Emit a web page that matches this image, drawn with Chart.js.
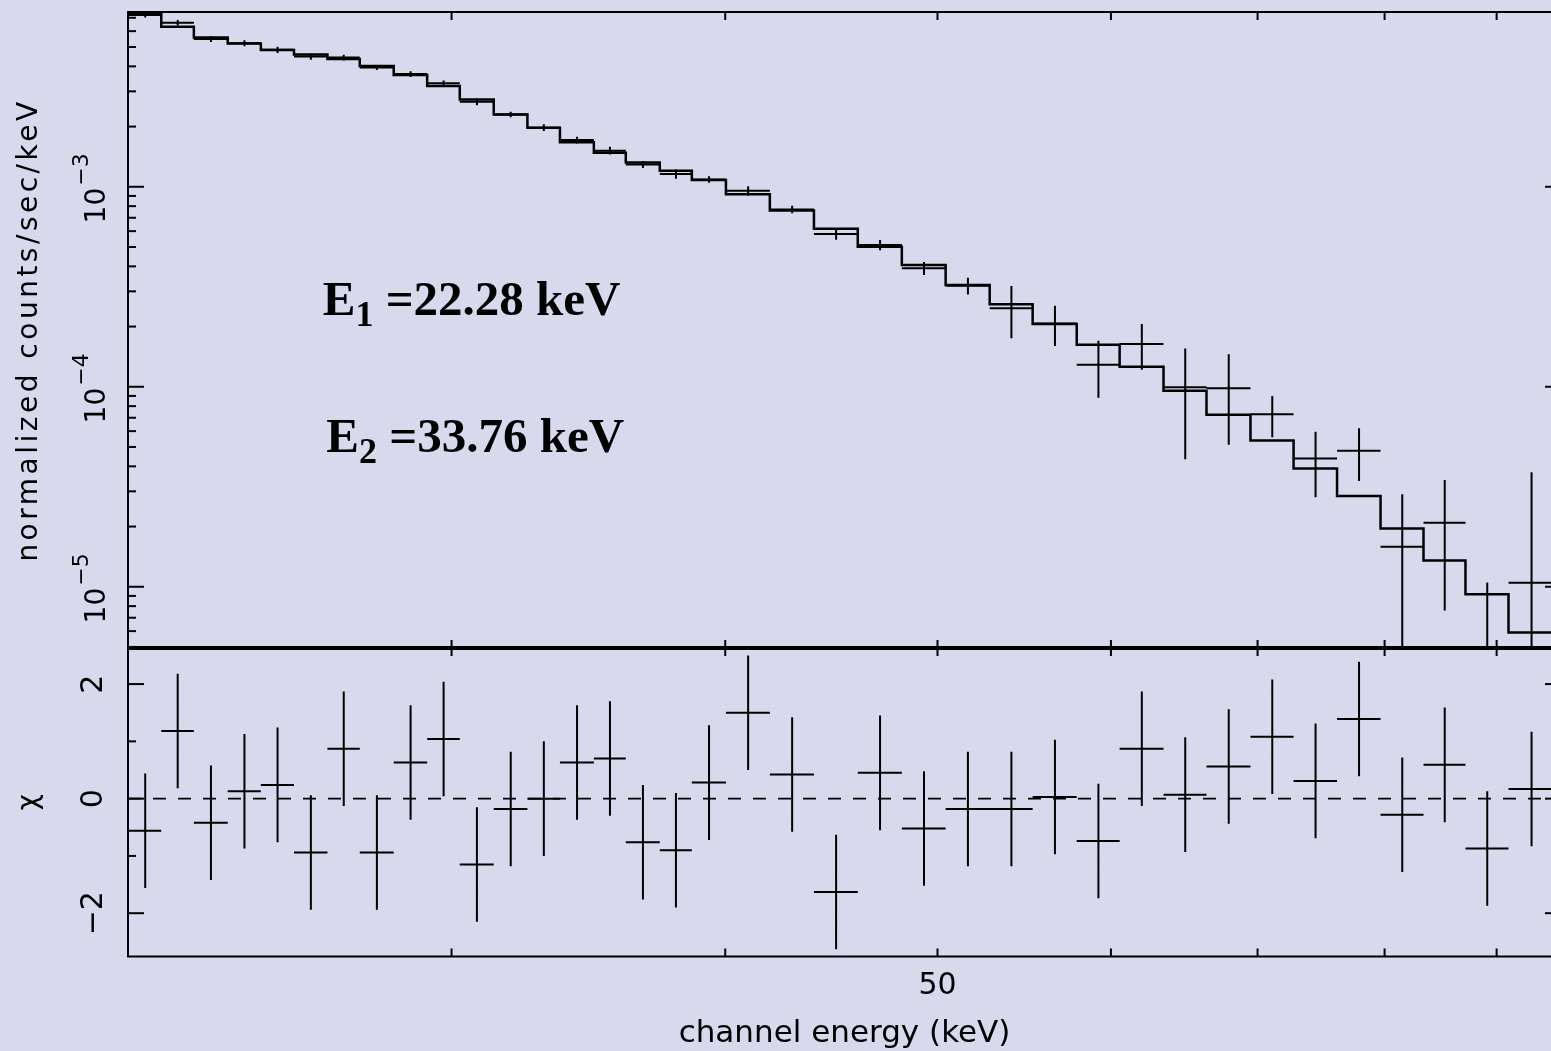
<!DOCTYPE html>
<html>
<head>
<meta charset="utf-8">
<script src="https://cdn.jsdelivr.net/npm/chart.js@4.4.1/dist/chart.umd.min.js"></script>
<style>
  html, body { margin: 0; padding: 0; overflow: hidden; }
  body { width: 1551px; height: 1051px; background: #d9d9ed; position: relative; }
  canvas { position: absolute; left: 0; }
  #spec { top: 0; }
  #resid { top: 640px; }
</style>
</head>
<body>
<canvas id="spec" width="1565" height="660"></canvas>
<canvas id="resid" width="1565" height="411"></canvas>
<script>
// channel bins (keV), one more edge than bins
const binEdges = [21.37, 22.11, 22.88, 23.71, 24.55, 25.42, 26.33, 27.24, 28.23, 29.24,
  30.26, 31.36, 32.49, 33.62, 34.84, 36.03, 37.34, 38.62, 40.03, 41.92,
  43.91, 45.98, 48.16, 50.43, 52.82, 55.26, 57.88, 60.55, 63.41, 66.34,
  69.48, 72.70, 76.10, 79.66, 83.34, 87.10, 91.13, 95.6];

// folded model (normalized counts/sec/keV)
const modelFlux = [7.31e-3, 6.32e-3, 5.57e-3, 5.21e-3, 4.83e-3, 4.59e-3, 4.36e-3, 4.02e-3, 3.62e-3, 3.19e-3,
  2.73e-3, 2.30e-3, 1.975e-3, 1.67e-3, 1.48e-3, 1.323e-3, 1.203e-3, 1.081e-3, 9.17e-4, 7.61e-4,
  6.17e-4, 5.02e-4, 4.06e-4, 3.23e-4, 2.585e-4, 2.06e-4, 1.624e-4, 1.26e-4, 9.56e-5, 7.25e-5,
  5.38e-5, 3.90e-5, 2.84e-5, 1.957e-5, 1.353e-5, 9.17e-6, 5.90e-6];

// data points and 1 sigma errors
const dataFlux = [7.23e-3, 6.61e-3, 5.48e-3, 5.22e-3, 4.84e-3, 4.48e-3, 4.43e-3, 3.95e-3, 3.66e-3, 3.29e-3,
  2.66e-3, 2.30e-3, 1.975e-3, 1.714e-3, 1.516e-3, 1.293e-3, 1.159e-3, 1.088e-3, 9.56e-4, 7.70e-4,
  5.81e-4, 5.12e-4, 3.91e-4, 3.20e-4, 2.47e-4, 2.07e-4, 1.29e-4, 1.637e-4, 9.94e-5, 9.83e-5,
  7.29e-5, 4.38e-5, 4.79e-5, 1.587e-5, 2.09e-5, 3.0e-7, 1.048e-5];
const fluxErr = [2.1e-4, 2.1e-4, 1.9e-4, 1.8e-4, 1.7e-4, 1.6e-4, 1.45e-4, 1.15e-4, 1.2e-4, 1.07e-4,
  1.0e-4, 7.2e-5, 7.7e-5, 6.6e-5, 6.8e-5, 5.1e-5, 6.1e-5, 4.2e-5, 5.1e-5, 3.3e-5,
  3.8e-5, 3.0e-5, 2.9e-5, 3.1e-5, 7.2e-5, 4.7e-5, 4.1e-5, 4.2e-5, 5.6e-5, 4.7e-5,
  1.70e-5, 1.58e-5, 1.41e-5, 1.31e-5, 1.33e-5, 1.02e-5, 2.69e-5];

// residuals (chi)
const chiVals = [-0.56, 1.18, -0.42, 0.13, 0.24, -0.94, 0.87, -0.94, 0.63, 1.04,
  -1.15, -0.18, 0.00, 0.63, 0.70, -0.76, -0.90, 0.28, 1.50, 0.42,
  -1.63, 0.45, -0.52, -0.18, -0.18, 0.03, -0.74, 0.87, 0.07, 0.56,
  1.08, 0.31, 1.39, -0.28, 0.59, -0.87, 0.17];
const chiErr = [1, 1, 1, 1, 1, 1, 1, 1, 1, 1, 1, 1, 1, 1, 1, 1, 1, 1, 1, 1,
  1, 1, 1, 1, 1, 1, 1, 1, 1, 1, 1, 1, 1, 1, 1, 1, 1];

// axes
const xMin = 21.35, xMax = 96.3;
const fluxMin = 4.94e-6, fluxMax = 7.48e-3;
const chiMin = -2.756, chiMax = 2.63;
const xTickValues = [30, 40, 50, 60, 70, 80, 90];
const xTickLabels = ['', '', '50', '', '', '', ''];
const fluxTickValues = [1e-5, 1e-4, 1e-3];
const fluxTickBase = ['10', '10', '10'];
const fluxTickExp = ['−5', '−4', '−3'];
const chiTickValues = [-2, 0, 2];
const chiTickLabels = ['−2', '0', '2'];
const chiMinorTicks = [-1, 1];

// line energies written on the plot
const lineSubs = ['1', '2'];
const lineEnergies = ['22.28', '33.76'];
const lineLabelX = [26.2, 26.3];
const lineLabelY = [2.29e-4, 4.74e-5];

const fluxMinorTicks = [];
for (let e = -6; e <= -3; e++) {
  for (let k = 2; k <= 9; k++) {
    const v = k * Math.pow(10, e);
    if (v > fluxMin && v < fluxMax) fluxMinorTicks.push(v);
  }
}

Chart.defaults.font.family = 'DejaVu Sans';
Chart.defaults.color = '#000';

function stepPoints(vals) {
  const pts = [];
  vals.forEach((v, i) => {
    pts.push({ x: binEdges[i], y: v }, { x: binEdges[i + 1], y: v });
  });
  return pts;
}

function crossPoints(vals, errs, floor) {
  const pts = [];
  vals.forEach((v, i) => {
    const lo = binEdges[i], hi = binEdges[i + 1], mid = (lo + hi) / 2;
    pts.push({ x: lo, y: v }, { x: hi, y: v }, { x: mid, y: null });
    pts.push({ x: mid, y: Math.max(v - errs[i], floor) }, { x: mid, y: v + errs[i] }, { x: mid, y: null });
  });
  return pts;
}

// box with inward ticks, pgplot style
function makeFrame(major, minor, bottomWidth) {
  return {
    id: 'frame',
    afterDatasetsDraw(chart) {
      const { ctx, chartArea: a } = chart;
      const xs = chart.scales.x, ys = chart.scales.y;
      const seg = (x1, y1, x2, y2) => { ctx.beginPath(); ctx.moveTo(x1, y1); ctx.lineTo(x2, y2); ctx.stroke(); };
      ctx.save();
      ctx.strokeStyle = '#000';
      ctx.lineWidth = 2;
      ctx.strokeRect(a.left, a.top, a.right - a.left, a.bottom - a.top);
      if (bottomWidth) {
        ctx.lineWidth = bottomWidth;
        seg(a.left, a.bottom, a.right, a.bottom);
        ctx.lineWidth = 2;
      }
      xTickValues.forEach(v => {
        const px = xs.getPixelForValue(v);
        seg(px, a.top, px, a.top + 8);
        seg(px, a.bottom, px, a.bottom - 8);
      });
      major.forEach(v => {
        const py = ys.getPixelForValue(v);
        seg(a.left, py, a.left + 16, py);
        seg(a.right, py, a.right - 16, py);
      });
      minor.forEach(v => {
        const py = ys.getPixelForValue(v);
        seg(a.left, py, a.left + 8, py);
        seg(a.right, py, a.right - 8, py);
      });
      ctx.restore();
    }
  };
}

// wider spacing for the rotated axis title
const spacing = {
  id: 'spacing',
  beforeUpdate(chart) { chart.ctx.letterSpacing = '3.5px'; },
  beforeDraw(chart) { chart.ctx.letterSpacing = '3.5px'; },
  afterDatasetsDraw(chart) { chart.ctx.letterSpacing = '0px'; }
};

// 10^n labels with a real superscript, on the y scale ticks
const powerLabels = {
  id: 'powerLabels',
  afterDraw(chart) {
    const { ctx, chartArea: a } = chart;
    const ys = chart.scales.y;
    ctx.save();
    ctx.letterSpacing = '0px';
    ctx.fillStyle = '#000';
    ctx.textBaseline = 'alphabetic';
    fluxTickValues.forEach((v, i) => {
      const py = ys.getPixelForValue(v);
      ctx.save();
      ctx.translate(a.left, py);
      ctx.rotate(-Math.PI / 2);
      ctx.font = '28px "DejaVu Sans"';
      ctx.textAlign = 'right';
      ctx.fillText(fluxTickBase[i], -1, -23);
      ctx.font = '22px "DejaVu Sans"';
      ctx.textAlign = 'left';
      ctx.fillText(fluxTickExp[i], 1, -40);
      ctx.restore();
    });
    ctx.restore();
  }
};

const energyLabels = {
  id: 'energyLabels',
  afterDraw(chart) {
    const { ctx } = chart;
    const xs = chart.scales.x, ys = chart.scales.y;
    ctx.save();
    ctx.letterSpacing = '0px';
    ctx.fillStyle = '#000';
    ctx.textAlign = 'left';
    ctx.textBaseline = 'alphabetic';
    lineSubs.forEach((sub, i) => {
      let x = xs.getPixelForValue(lineLabelX[i]);
      const y = ys.getPixelForValue(lineLabelY[i]);
      ctx.font = 'bold 49px "Liberation Serif"';
      ctx.fillText('E', x, y);
      x += ctx.measureText('E').width;
      ctx.font = 'bold 36px "Liberation Serif"';
      ctx.fillText(sub, x, y + 11);
      x += ctx.measureText(sub).width;
      ctx.font = 'bold 49px "Liberation Serif"';
      ctx.fillText(' =' + lineEnergies[i] + ' keV', x, y);
    });
    ctx.restore();
  }
};

const common = {
  responsive: false,
  animation: false,
  devicePixelRatio: 1,
  events: []
};

new Chart(document.getElementById('spec'), {
  type: 'line',
  data: {
    datasets: [
      { data: stepPoints(modelFlux), borderColor: '#000', borderWidth: 2.5, pointRadius: 0, tension: 0 },
      { data: crossPoints(dataFlux, fluxErr, 1e-9), borderColor: '#000', borderWidth: 2, pointRadius: 0, spanGaps: false }
    ]
  },
  options: {
    ...common,
    layout: { padding: { left: 0, right: 4, top: 12, bottom: 12 } },
    plugins: { legend: { display: false }, tooltip: { enabled: false } },
    scales: {
      x: { type: 'logarithmic', min: xMin, max: xMax, bounds: 'data', display: false },
      y: {
        type: 'logarithmic', position: 'left', min: fluxMin, max: fluxMax, bounds: 'data',
        grid: { display: false, drawTicks: false },
        border: { display: false },
        afterFit: s => { s.width = 128; s.paddingTop = 0; s.paddingBottom = 0; },
        ticks: { display: false },
        title: {
          display: true, text: 'normalized counts/sec/keV', color: '#000',
          font: { size: 28 }, padding: { top: 13, bottom: 0 }
        }
      }
    }
  },
  plugins: [spacing, makeFrame(fluxTickValues, fluxMinorTicks, 4), powerLabels, energyLabels]
});

new Chart(document.getElementById('resid'), {
  type: 'line',
  data: {
    datasets: [
      { data: [{ x: xMin, y: 0 }, { x: xMax, y: 0 }], borderColor: '#000', borderWidth: 1.8, borderDash: [13, 12], pointRadius: 0 },
      { data: crossPoints(chiVals, chiErr, -Infinity), borderColor: '#000', borderWidth: 2, pointRadius: 0, spanGaps: false }
    ]
  },
  options: {
    ...common,
    layout: { padding: { left: 0, right: 4, top: 8, bottom: 0 } },
    plugins: { legend: { display: false }, tooltip: { enabled: false } },
    scales: {
      x: {
        type: 'logarithmic', position: 'bottom', min: xMin, max: xMax, bounds: 'data',
        grid: { display: false, drawTicks: false },
        border: { display: false },
        afterBuildTicks: s => { s.ticks = xTickValues.map(v => ({ value: v })); },
        afterFit: s => { s.height = 94.5; s.paddingLeft = 0; s.paddingRight = 0; },
        ticks: {
          autoSkip: false, minRotation: 0, maxRotation: 0, padding: 12,
          color: '#000', font: { size: 30 },
          callback: (v, i) => xTickLabels[i]
        },
        title: {
          display: true, text: 'channel energy (keV)', color: '#000',
          font: { size: 31, lineHeight: 1.1 }, padding: 0
        }
      },
      y: {
        type: 'linear', position: 'left', min: chiMin, max: chiMax, bounds: 'data',
        grid: { display: false, drawTicks: false },
        border: { display: false },
        afterBuildTicks: s => { s.ticks = chiTickValues.map(v => ({ value: v })); },
        afterFit: s => { s.width = 128; s.paddingTop = 0; s.paddingBottom = 0; },
        ticks: {
          autoSkip: false, minRotation: 90, maxRotation: 90, crossAlign: 'center', padding: 12,
          color: '#000', font: { size: 30 },
          callback: (v, i) => chiTickLabels[i]
        },
        title: {
          display: true, text: 'χ', color: '#000',
          font: { size: 28 }, padding: { top: 13, bottom: 0 }
        }
      }
    }
  },
  plugins: [makeFrame(chiTickValues, chiMinorTicks, 0)]
});
</script>
</body>
</html>
